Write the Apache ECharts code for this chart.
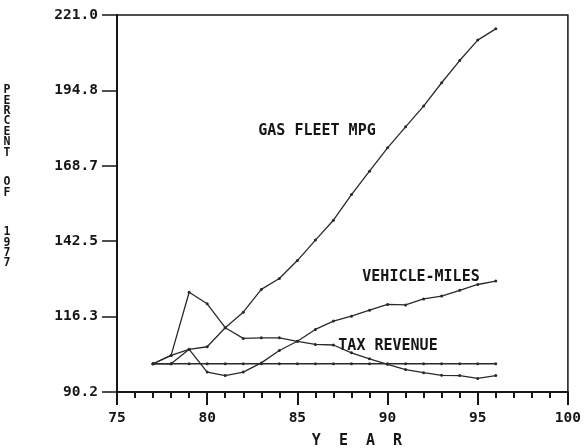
<!DOCTYPE html>
<html>
<head>
<meta charset="utf-8">
<script src="https://cdn.jsdelivr.net/npm/echarts@6/dist/echarts.min.js"></script>
<style>
	html, body { margin: 0; padding: 0; background: #fff; }
	#chart { width: 584px; height: 448px; }
</style>
</head>
<body>
<div id="chart"></div>
<script>
// 数据 (1977 = 100)
const years = [77, 78, 79, 80, 81, 82, 83, 84, 85, 86, 87, 88, 89, 90, 91, 92, 93, 94, 95, 96];
const gasFleetMpg = [100, 102.9, 105.0, 105.9, 112.5, 117.9, 125.8, 129.6, 135.8, 142.9, 149.8, 158.7, 166.8, 174.9, 182.2, 189.4, 197.5, 205.2, 212.3, 216.2];
const vehicleMiles = [100, 100, 105.0, 97.1, 95.9, 97.1, 100.3, 104.6, 107.8, 111.9, 114.8, 116.5, 118.6, 120.6, 120.4, 122.5, 123.5, 125.5, 127.5, 128.7];
const taxRevenue = [100, 102.9, 124.8, 120.8, 112.5, 108.8, 109.0, 109.0, 107.8, 106.7, 106.5, 103.8, 101.7, 99.8, 98.0, 96.9, 96.0, 95.9, 94.9, 95.9];
const baseLine = [100, 100, 100, 100, 100, 100, 100, 100, 100, 100, 100, 100, 100, 100, 100, 100, 100, 100, 100, 100];

// 坐标轴刻度
const yTickValues = [90.2, 116.36, 142.52, 168.68, 194.84, 221.0];
const yTickLabels = ['90.2', '116.3', '142.5', '168.7', '194.8', '221.0'];
const seriesNames = ['GAS FLEET MPG', 'VEHICLE-MILES', 'TAX REVENUE'];

const font = 'DejaVu Sans Mono';
const ink = '#161616';

const toPairs = (vals) => years.map((y, i) => [y, vals[i]]);

function makeSeries(name, vals) {
	return {
		name: name,
		type: 'line',
		data: toPairs(vals),
		symbol: 'circle',
		symbolSize: 3,
		lineStyle: { color: '#2a2a2a', width: 1.3 },
		itemStyle: { color: '#2a2a2a' },
		animation: false,
	};
}

// 竖排文字
function vText(str, x, y) {
	return {
		type: 'text',
		x: x,
		y: y,
		style: { text: str.split('').join('\n'), font: 'bold 11.5px "DejaVu Sans Mono"', lineHeight: 10.4, fill: ink, align: 'center', verticalAlign: 'top' },
	};
}

const chart = echarts.init(document.getElementById('chart'));

const option = {
	backgroundColor: '#fff',
	animation: false,
	grid: {
		show: true,
		left: 117,
		right: 13,
		top: 15,
		bottom: 56,
		borderColor: ink,
		borderWidth: 1.5,
	},
	xAxis: {
		type: 'value',
		min: 75,
		max: 100,
		interval: 5,
		axisLine: { show: true, lineStyle: { color: ink, width: 2 } },
		axisTick: { show: true, length: 13, lineStyle: { color: ink, width: 2 } },
		minorTick: { show: true, splitNumber: 5, length: 6, lineStyle: { color: ink, width: 2 } },
		axisLabel: { margin: 19, color: ink, fontFamily: font, fontSize: 14.5, fontWeight: 'bold' },
		splitLine: { show: false },
		minorSplitLine: { show: false },
	},
	yAxis: {
		type: 'value',
		min: 90.2,
		max: 221.0,
		axisLine: { show: true, lineStyle: { color: ink, width: 2 } },
		axisTick: { show: true, length: 15, customValues: yTickValues, lineStyle: { color: ink, width: 1.5 } },
		axisLabel: {
			customValues: yTickValues,
			margin: 19,
			color: ink,
			fontFamily: font,
			fontSize: 14.5,
			fontWeight: 'bold',
			formatter: function (value) {
				let best = 0;
				yTickValues.forEach((t, i) => {
					if (Math.abs(t - value) < Math.abs(yTickValues[best] - value)) best = i;
				});
				return yTickLabels[best];
			},
		},
		splitLine: { show: false },
	},
	series: [
		makeSeries('base', baseLine),
		makeSeries(seriesNames[0], gasFleetMpg),
		makeSeries(seriesNames[1], vehicleMiles),
		makeSeries(seriesNames[2], taxRevenue),
	],
	graphic: [
		// 纵轴标题
		vText('PERCENT', 7, 85),
		vText('OF', 7, 177),
		vText('1977', 7, 227),
		// 横轴标题
		{ type: 'text', x: 357, y: 441, style: { text: 'Y  E  A  R', font: 'bold 15px "DejaVu Sans Mono"', fill: ink, align: 'center', verticalAlign: 'middle' } },
		// 曲线标注
		{ type: 'text', x: 317, y: 131, style: { text: seriesNames[0], font: 'bold 15px "DejaVu Sans Mono"', fill: ink, align: 'center', verticalAlign: 'middle' } },
		{ type: 'text', x: 421, y: 277, style: { text: seriesNames[1], font: 'bold 15px "DejaVu Sans Mono"', fill: ink, align: 'center', verticalAlign: 'middle' } },
		{ type: 'text', x: 388, y: 346, style: { text: seriesNames[2], font: 'bold 15px "DejaVu Sans Mono"', fill: ink, align: 'center', verticalAlign: 'middle' } },
	],
};

chart.setOption(option);
</script>
</body>
</html>
